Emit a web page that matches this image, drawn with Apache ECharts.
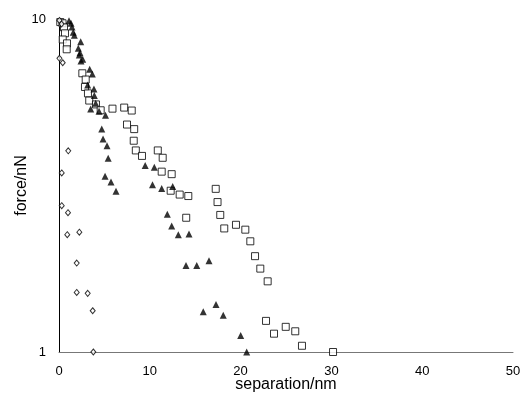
<!DOCTYPE html>
<html>
<head>
<meta charset="utf-8">
<script src="https://cdn.jsdelivr.net/npm/echarts@6/dist/echarts.min.js"></script>
<style>html,body{margin:0;padding:0;background:#fff}#c{width:526px;height:400px}</style>
</head>
<body>
<div id="c"></div>
<script>
// separation (nm), force (nN)
const triangles = [
  [1.10,9.88],[1.32,9.71],[1.43,9.46],[1.57,9.12],[1.69,8.93],[2.39,8.55],[2.13,8.17],
  [2.31,7.92],[2.24,7.80],[2.61,7.57],[2.42,7.48],[3.38,7.06],[3.67,6.84],[3.16,6.34],
  [3.85,6.16],[3.89,5.89],[4.04,5.58],[3.49,5.37],[4.41,5.28],[5.12,5.14],[4.71,4.67],
  [4.85,4.36],[5.29,4.16],[5.42,3.82],[5.07,3.37],[5.73,3.24],[6.28,3.04],[9.49,3.63],
  [10.50,3.59],[10.30,3.18],[11.31,3.10],[12.52,3.14],[11.93,2.59],[12.41,2.39],
  [13.14,2.25],[14.32,2.26],[13.99,1.82],[15.17,1.82],[16.52,1.88],[15.89,1.32],
  [17.29,1.39],[18.09,1.29],[20.01,1.12],[20.67,1.0]
];
const squares = [
  [0.14,9.79],[0.39,9.71],[0.55,9.44],[0.66,9.06],[0.41,8.68],[0.88,8.45],[0.85,8.11],
  [2.57,6.87],[2.94,6.58],[2.86,6.25],[3.19,5.98],[3.33,5.69],[4.07,5.54],[4.59,5.32],
  [5.89,5.38],[7.18,5.42],[8.01,5.31],[7.49,4.82],[8.28,4.67],[8.23,4.31],[8.46,4.03],
  [9.14,3.88],[10.88,4.03],[11.42,3.83],[11.31,3.48],[12.41,3.42],[12.30,3.05],
  [13.29,2.97],[14.24,2.94],[14.01,2.53],[17.26,3.09],[17.46,2.82],[17.76,2.58],
  [18.20,2.35],[19.49,2.41],[20.52,2.33],[21.07,2.15],[21.59,1.94],[22.17,1.78],
  [22.98,1.63],[22.80,1.24],[23.68,1.135],[24.97,1.19],[26.02,1.154],[26.76,1.044],[30.18,1.0]
];
const diamonds = [
  [0.05,9.9],[0.28,9.66],[0.05,7.62],[0.41,7.39],[1.02,4.02],[0.30,3.45],[0.30,2.75],
  [0.99,2.62],[0.91,2.25],[2.24,2.29],[1.95,1.85],[1.95,1.51],[3.16,1.50],[3.71,1.33],[3.78,1.0]
];
const xTicks = [0,10,20,30,40,50];
const yTicks = [1,10];

const font = 'Liberation Sans, Arial, sans-serif';
const chart = echarts.init(document.getElementById('c'));
chart.setOption({
  animation: false,
  backgroundColor: '#fff',
  grid: {left: 59, right: 13, top: 19, bottom: 48},
  xAxis: {
    type: 'value', min: xTicks[0], max: xTicks[xTicks.length-1], interval: 10,
    name: 'separation/nm', nameLocation: 'middle', nameGap: 25, nameMoveOverlap: false,
    nameTextStyle: {fontFamily: font, fontSize: 16, color: '#000'},
    axisLine: {lineStyle: {color: '#777', width: 1}},
    axisTick: {show: false},
    splitLine: {show: false},
    axisLabel: {fontFamily: font, fontSize: 13, color: '#000', margin: 13}
  },
  yAxis: {
    type: 'log', logBase: 10, min: yTicks[0], max: yTicks[1],
    name: 'force/nN', nameLocation: 'middle', nameGap: 29, nameMoveOverlap: false,
    nameTextStyle: {fontFamily: font, fontSize: 16, color: '#000'},
    axisLine: {show: true, lineStyle: {color: '#000', width: 1}},
    axisTick: {show: false},
    minorTick: {show: false},
    splitLine: {show: false},
    axisLabel: {fontFamily: font, fontSize: 13, color: '#000', margin: 13}
  },
  series: [
    {type: 'scatter', data: squares, symbol: 'rect', symbolSize: 7,
     itemStyle: {color: '#fff', borderColor: '#000', borderWidth: 1}},
    {type: 'scatter', data: diamonds, symbol: 'diamond', symbolSize: [5,6],
     itemStyle: {color: '#fff', borderColor: '#000', borderWidth: 1}},
    {type: 'scatter', data: triangles, symbol: 'triangle', symbolSize: 7,
     itemStyle: {color: '#000'}}
  ]
});
</script>
</body>
</html>
